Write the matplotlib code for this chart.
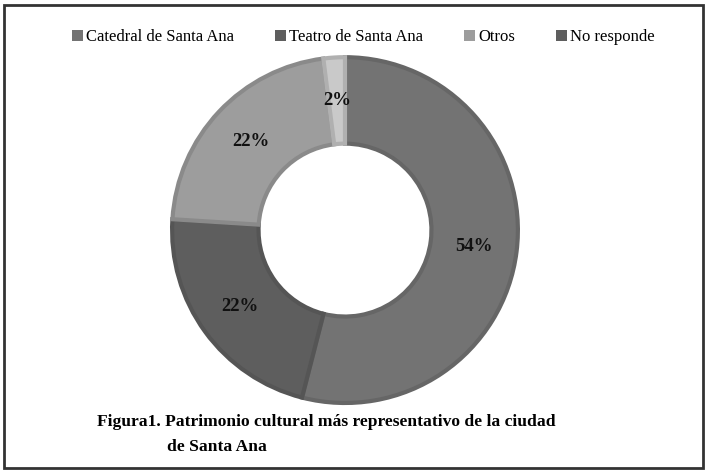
import matplotlib
matplotlib.use("Agg")
import matplotlib.pyplot as plt
from matplotlib.patches import Patch, Rectangle
import numpy as np

# datos
categorias = ["Catedral de Santa Ana", "Teatro de Santa Ana", "Otros", "No responde"]
valores = [54, 22, 22, 2]
etiquetas = ["54%", "22%", "22%", "2%"]
titulo1 = "Figura1. Patrimonio cultural más representativo de la ciudad"
titulo2 = "de Santa Ana"

# colores (gris, como en el original)
relleno = ["#737373", "#5e5e5e", "#9d9d9d", "#c9c9c9"]
borde = ["#666666", "#555555", "#8a8a8a", "#b0b0b0"]
leyenda_col = ["#737373", "#5e5e5e", "#9d9d9d", "#5e5e5e"]

plt.rcParams['font.family'] = ['Liberation Serif', 'DejaVu Serif']

fig = plt.figure(figsize=(7.09, 4.75), dpi=100)
ax = fig.add_axes([0.2426, 0.1516, 0.488, 0.728])

wedges, _ = ax.pie(valores, startangle=90, counterclock=False, colors=relleno,
                   radius=1, wedgeprops=dict(width=0.5, linewidth=3))
for w, c in zip(wedges, borde):
    w.set_edgecolor(c)
ax.set_xlim(-1, 1)
ax.set_ylim(-1, 1)
ax.set_aspect('equal')

# etiquetas de porcentaje
for w, t in zip(wedges, etiquetas):
    mid = np.deg2rad((w.theta1 + w.theta2) / 2)
    ax.text(0.75 * np.cos(mid), 0.75 * np.sin(mid), t, ha='center', va='center',
            fontsize=13.5, fontweight='bold', color='#111111')

# leyenda
handles = [Patch(facecolor=c, edgecolor='none') for c in leyenda_col]
fig.legend(handles, categorias, loc='center', bbox_to_anchor=(0.5127, 1 - 37 / 475),
           ncol=4, frameon=False, fontsize=12, handlelength=0.65, handleheight=0.65,
           handletextpad=0.2, columnspacing=2.45)

# titulo abajo
fig.text(97 / 709, 1 - 422 / 475, titulo1, ha='left', va='center', fontsize=12.6,
         fontweight='bold')
fig.text(167 / 709, 1 - 447 / 475, titulo2, ha='left', va='center', fontsize=12.6,
         fontweight='bold')

# marco
fig.patches.append(Rectangle((4 / 709, 7 / 475), 699 / 709, 463 / 475,
                             transform=fig.transFigure, fill=False,
                             edgecolor='#333333', linewidth=2))

fig.savefig("out.png", dpi=100, facecolor='white')
